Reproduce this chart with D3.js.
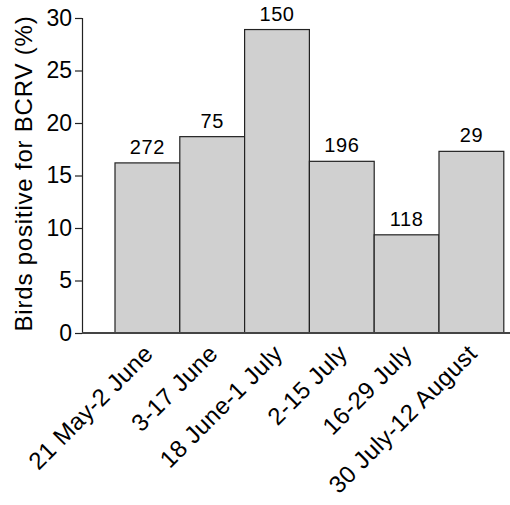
<!DOCTYPE html>
<html>
<head>
<meta charset="utf-8">
<script src="https://cdn.jsdelivr.net/npm/d3@7"></script>
<style>
  body { margin: 0; background: #fff; }
  text { font-family: Arial, "Liberation Sans", sans-serif; fill: #000; }
</style>
</head>
<body>
<svg id="viz" width="510" height="505"></svg>
<script>
// Data
const periods = ['21 May-2 June', '3-17 June', '18 June-1 July', '2-15 July', '16-29 July', '30 July-12 August'];
const positive = [16.2, 18.7, 28.9, 16.35, 9.35, 17.3];
const sampleSizes = [272, 75, 150, 196, 118, 29];
const yTicks = [0, 5, 10, 15, 20, 25, 30];

const svg = d3.select('#viz');
const margin = { top: 18, right: 6, bottom: 172, left: 82 };
const width  = +svg.attr('width')  - margin.left - margin.right;
const height = +svg.attr('height') - margin.top  - margin.bottom;
const g = svg.append('g')
             .attr('transform', `translate(${margin.left},${margin.top})`);

const x = d3.scaleBand()
            .domain(periods)
            .range([33, 33 + 6 * 64.8])
            .paddingInner(0);

const y = d3.scaleLinear()
            .domain([0, 30])
            .range([height, 0]);

// Bars
g.selectAll('rect.bar')
 .data(periods)
 .join('rect')
   .attr('class', 'bar')
   .attr('x', d => x(d))
   .attr('y', (d, i) => y(positive[i]))
   .attr('width', x.bandwidth())
   .attr('height', (d, i) => height - y(positive[i]))
   .attr('fill', '#d0d0d0')
   .attr('stroke', '#222')
   .attr('stroke-width', 1.2);

// Sample size labels
g.selectAll('text.n')
 .data(periods)
 .join('text')
   .attr('class', 'n')
   .attr('x', d => x(d) + x.bandwidth() / 2)
   .attr('y', (d, i) => y(positive[i]) - 9)
   .attr('text-anchor', 'middle')
   .style('font-size', '20px')
   .style('letter-spacing', '0.6px')
   .text((d, i) => sampleSizes[i]);

// Y axis
const yAxis = g.append('g')
  .call(d3.axisLeft(y).tickValues(yTicks).tickSize(7).tickPadding(3));
yAxis.select('.domain').attr('stroke', '#222').attr('stroke-width', 1.2);
yAxis.selectAll('.tick line').attr('stroke', '#222').attr('stroke-width', 1.2);
yAxis.selectAll('.tick text')
     .style('font-size', '23px')
     .style('font-family', 'Arial, "Liberation Sans", sans-serif')
     .attr('fill', '#000');

// X axis line
g.append('line')
 .attr('x1', 0).attr('x2', width + margin.right)
 .attr('y1', height).attr('y2', height)
 .attr('stroke', '#444').attr('stroke-width', 2);

// X labels, rotated
g.selectAll('text.xl')
 .data(periods)
 .join('text')
   .attr('class', 'xl')
   .attr('text-anchor', 'end')
   .attr('transform', d => `translate(${x(d) + x.bandwidth() / 2 + 7},${height + 22}) rotate(-45)`)
   .style('font-size', '24px')
   .style('letter-spacing', '0.4px')
   .text(d => d);

// Y title
svg.append('text')
   .attr('transform', `translate(32,${margin.top + height / 2 - 2}) rotate(-90)`)
   .attr('text-anchor', 'middle')
   .style('font-size', '24px')
   .style('letter-spacing', '0.8px')
   .text('Birds positive for BCRV (%)');
</script>
</body>
</html>
